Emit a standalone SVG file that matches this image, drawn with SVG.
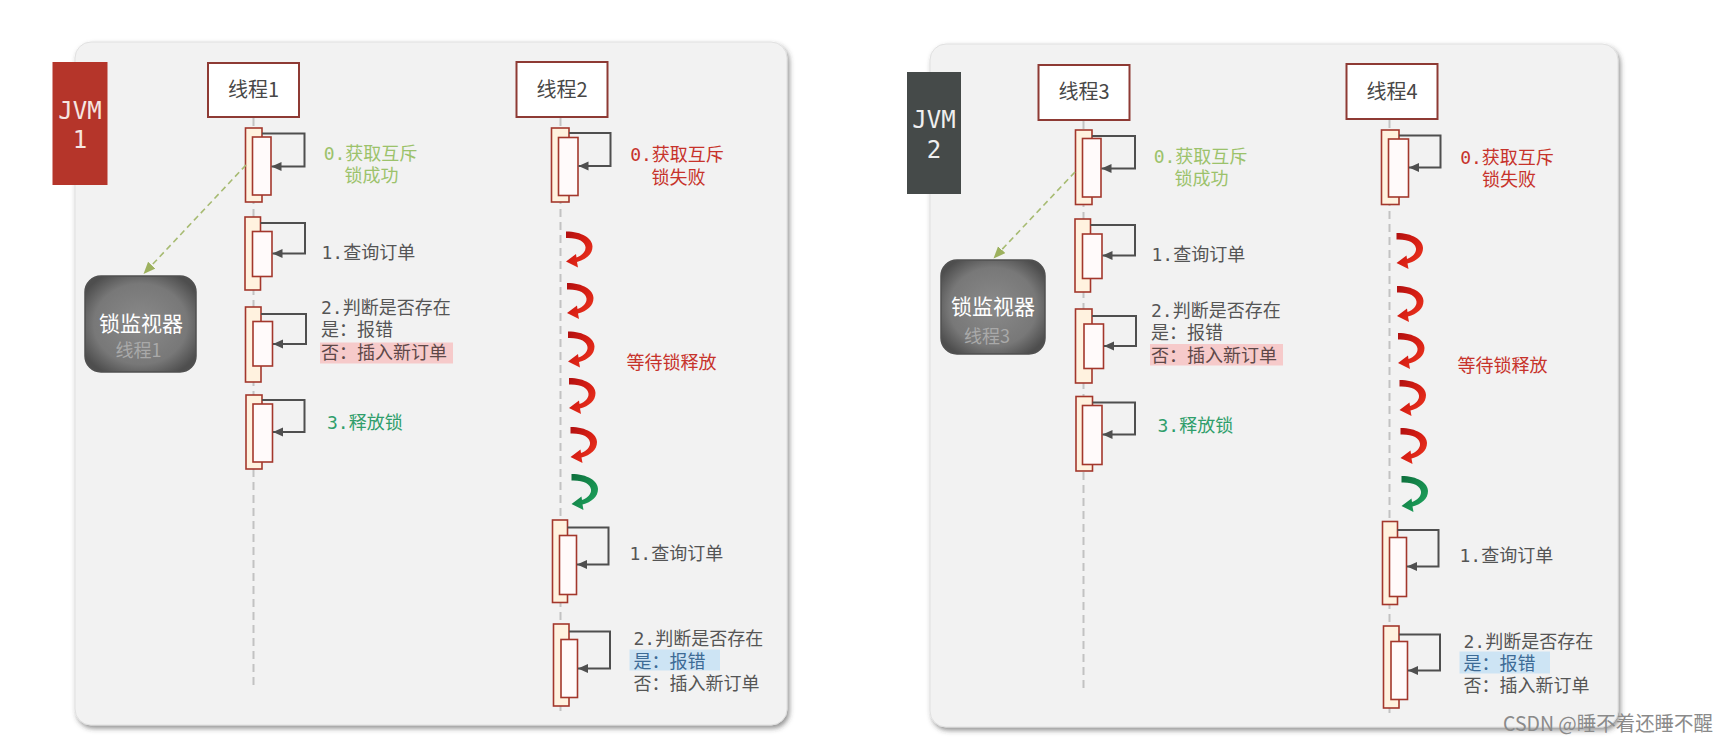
<svg xmlns="http://www.w3.org/2000/svg" width="1729" height="742" viewBox="0 0 1729 742">
<style>
.panel{fill:#f2f2f2;stroke:#e0e0e0;stroke-width:1}
.tbox{fill:#ffffff;stroke:#8e3a34;stroke-width:2}
.tn{font-family:"Noto Sans CJK SC","Noto Sans",sans-serif;font-size:20px;fill:#474747;text-anchor:middle}
.jvm{font-family:"DejaVu Sans Mono","Liberation Mono",monospace;font-size:24px;text-anchor:middle}
.life{stroke:#c2c2c2;stroke-width:2;stroke-dasharray:8 5;fill:none}
.aout{fill:#fff2df;stroke:#a3372c;stroke-width:1.6}
.ain{fill:#fffafa;stroke:#a3372c;stroke-width:1.6}
.self{fill:none;stroke:#4f4f4f;stroke-width:2;marker-end:url(#ah)}
.t{font-family:"DejaVu Sans Mono","Noto Sans CJK SC",monospace;font-size:18px}
.mid{text-anchor:middle}
.ok{fill:#9cc26b}
.bad{fill:#c7332b}
.gray{fill:#555555}
.rel{fill:#2f9e6b}
.blue{fill:#3d6b96}
.pinkt{fill:#5e4848}
.hlp{fill:#f6caca}
.hlb{fill:#cde4f4}
.mon{fill:url(#mg);stroke:#505050;stroke-width:1.5}
.mt{font-family:"Noto Sans CJK SC","Noto Sans",sans-serif;text-anchor:middle}
.dash{fill:none;stroke:#a7bb72;stroke-width:1.6;stroke-dasharray:6 4;marker-end:url(#dh)}
</style>
<defs>
<marker id="ah" markerUnits="userSpaceOnUse" markerWidth="12" markerHeight="10" refX="10" refY="4.5" orient="auto"><path d="M0,0 L10,4.5 L0,9 z" fill="#4f4f4f"/></marker>
<marker id="dh" markerUnits="userSpaceOnUse" markerWidth="14" markerHeight="12" refX="12" refY="5" orient="auto"><path d="M0,0 L12,5 L0,10 z" fill="#9db15e"/></marker>
<radialGradient id="mg" cx="50%" cy="50%" r="60%">
<stop offset="0" stop-color="#8a8a8a"/><stop offset="0.7" stop-color="#787878"/><stop offset="1" stop-color="#4e4e4e"/>
</radialGradient>
<linearGradient id="rg" x1="0" y1="0" x2="1" y2="1">
<stop offset="0" stop-color="#b01010"/><stop offset="0.5" stop-color="#d81f14"/><stop offset="1" stop-color="#ee3a22"/>
</linearGradient>
<linearGradient id="gg" x1="0" y1="0" x2="1" y2="1">
<stop offset="0" stop-color="#0d6e3c"/><stop offset="0.5" stop-color="#168c4e"/><stop offset="1" stop-color="#22a862"/>
</linearGradient>
<path id="curl" d="M0,0 C16,0 26.5,7 26.5,15 C26.5,23 20,28 11,30.5 L12,36 L0,30 L10,22.5 L10.5,26 C16,24 20,20 19.5,15.5 C19,10 12,6 0,6.5 Z"/>
<filter id="sh" x="-5%" y="-5%" width="110%" height="110%">
<feDropShadow dx="2" dy="3" stdDeviation="2.5" flood-color="#3a3a3a" flood-opacity="0.55"/>
</filter>
</defs>
<rect width="1729" height="742" fill="#ffffff"/>

<g id="panel-jvm1">
<rect class="panel" x="75" y="42" width="712" height="683" rx="16" filter="url(#sh)"/>
</g>
<g id="panel-jvm2">
<rect class="panel" x="930" y="44" width="688" height="683" rx="16" filter="url(#sh)"/>
</g>

<g id="jvm1">
<rect x="52.5" y="62" width="55" height="123" fill="#b5352a"/>
<text class="jvm" x="80" y="118.5" fill="#f6e6e1">JVM</text>
<text class="jvm" x="80" y="147.5" fill="#f6e6e1">1</text>
</g>
<g id="jvm2">
<rect x="907" y="72" width="54" height="122" fill="#454a49"/>
<text class="jvm" x="934" y="127.5" fill="#efefef">JVM</text>
<text class="jvm" x="934" y="157.5" fill="#efefef">2</text>
</g>

<g id="lifelines">
<line class="life" x1="253.5" y1="118" x2="253.5" y2="690"/>
<line class="life" x1="560.5" y1="118" x2="560.5" y2="712"/>
<line class="life" x1="1083.5" y1="121" x2="1083.5" y2="692"/>
<line class="life" x1="1389.5" y1="120" x2="1389.5" y2="713"/>
</g>

<g id="thread1">
<rect class="tbox" x="208" y="63" width="91" height="54"/>
<text class="tn" x="253.5" y="97">线程1</text>
</g>
<g id="thread2">
<rect class="tbox" x="516.5" y="62" width="91" height="55"/>
<text class="tn" x="562" y="97">线程2</text>
</g>
<g id="thread3">
<rect class="tbox" x="1038.5" y="65" width="91" height="55"/>
<text class="tn" x="1084" y="99">线程3</text>
</g>
<g id="thread4">
<rect class="tbox" x="1346.5" y="64" width="91" height="55"/>
<text class="tn" x="1392" y="99">线程4</text>
</g>

<g id="monitor1">
<rect class="mon" x="85" y="276" width="111" height="96" rx="16"/>
<text class="mt" x="141" y="330.5" font-size="21" fill="#ffffff">锁监视器</text>
<text class="mt" x="138.5" y="357" font-size="18" fill="#a9a9a9">线程1</text>
</g>
<g id="monitor2">
<rect class="mon" x="941" y="260" width="104" height="94" rx="16"/>
<text class="mt" x="993" y="314" font-size="21" fill="#ffffff">锁监视器</text>
<text class="mt" x="987" y="343" font-size="18" fill="#a9a9a9">线程3</text>
</g>

<!-- activation boxes -->
<g id="t1-act0"><rect class="aout" x="245.5" y="128" width="16.5" height="74"/><rect class="ain" x="252.5" y="137" width="18.5" height="58"/></g>
<g id="t1-act1"><rect class="aout" x="245" y="217" width="15.5" height="73"/><rect class="ain" x="252.5" y="231.5" width="19.5" height="45"/></g>
<g id="t1-act2"><rect class="aout" x="245.5" y="307" width="15.5" height="75"/><rect class="ain" x="253" y="321.5" width="19.5" height="44.5"/></g>
<g id="t1-act3"><rect class="aout" x="246" y="395" width="16" height="74"/><rect class="ain" x="253" y="404" width="19.5" height="58"/></g>

<g id="t2-act0"><rect class="aout" x="551.5" y="128" width="17.5" height="74"/><rect class="ain" x="558.5" y="137.5" width="19.5" height="58"/></g>
<g id="t2-act1"><rect class="aout" x="552.5" y="520" width="15" height="82.5"/><rect class="ain" x="559.5" y="535.5" width="17" height="59"/></g>
<g id="t2-act2"><rect class="aout" x="553.5" y="624" width="15.5" height="82"/><rect class="ain" x="561" y="639.5" width="16.5" height="58"/></g>

<g id="t3-act0"><rect class="aout" x="1075.5" y="130" width="16.5" height="74.5"/><rect class="ain" x="1082.5" y="138.5" width="18.5" height="58.5"/></g>
<g id="t3-act1"><rect class="aout" x="1075" y="219" width="15.5" height="73"/><rect class="ain" x="1082.5" y="234" width="19.5" height="44.5"/></g>
<g id="t3-act2"><rect class="aout" x="1075.5" y="309" width="16.5" height="74"/><rect class="ain" x="1084" y="324" width="19.5" height="44.5"/></g>
<g id="t3-act3"><rect class="aout" x="1076" y="396.5" width="16.5" height="74.5"/><rect class="ain" x="1082.5" y="405.5" width="19.5" height="59"/></g>

<g id="t4-act0"><rect class="aout" x="1381.5" y="130" width="17.5" height="74.5"/><rect class="ain" x="1388.5" y="139" width="20" height="58"/></g>
<g id="t4-act1"><rect class="aout" x="1382.5" y="521.5" width="15" height="83"/><rect class="ain" x="1389.5" y="537.5" width="17" height="59"/></g>
<g id="t4-act2"><rect class="aout" x="1383.5" y="626" width="15.5" height="82"/><rect class="ain" x="1391" y="641.5" width="16.5" height="58"/></g>

<g id="connectors">
<path class="self" d="M262,133.5 H304.5 V166.5 H271.5"/>
<path class="self" d="M260.5,223 H305 V253.5 H272.5"/>
<path class="self" d="M261,314 H306 V344 H273"/>
<path class="self" d="M262,400 H304.5 V432 H273"/>
<path class="self" d="M569,133 H610.5 V166 H578.5"/>
<path class="self" d="M567.5,527.5 H608.5 V564.5 H577"/>
<path class="self" d="M569,631.5 H610 V668.5 H578"/>
<path class="self" d="M1092,136 H1135 V168.5 H1101.5"/>
<path class="self" d="M1090.5,225 H1135 V255.5 H1102.5"/>
<path class="self" d="M1092,316 H1136 V346 H1104"/>
<path class="self" d="M1092.5,402.5 H1135 V434.5 H1102.5"/>
<path class="self" d="M1399,135.5 H1440.5 V167.5 H1409"/>
<path class="self" d="M1397.5,530 H1438.5 V566.5 H1407"/>
<path class="self" d="M1399,634.5 H1440 V670.5 H1408"/>
<path class="dash" d="M246,165 L143.5,274"/>
<path class="dash" d="M1075,172 L993.5,258.5"/>
</g>

<g id="waits">
<use href="#curl" x="566" y="231.5" fill="url(#rg)"/>
<use href="#curl" x="567" y="283" fill="url(#rg)"/>
<use href="#curl" x="568" y="331.5" fill="url(#rg)"/>
<use href="#curl" x="569" y="378" fill="url(#rg)"/>
<use href="#curl" x="570.5" y="427" fill="url(#rg)"/>
<use href="#curl" x="571.5" y="474" fill="url(#gg)"/>
<use href="#curl" x="1396.5" y="233" fill="url(#rg)"/>
<use href="#curl" x="1397" y="286" fill="url(#rg)"/>
<use href="#curl" x="1398" y="333" fill="url(#rg)"/>
<use href="#curl" x="1399.5" y="380" fill="url(#rg)"/>
<use href="#curl" x="1400.5" y="428" fill="url(#rg)"/>
<use href="#curl" x="1401.5" y="476" fill="url(#gg)"/>
</g>

<g id="labels-t1">
<text class="t ok mid" x="370.5" y="160">0.获取互斥</text>
<text class="t ok mid" x="371.5" y="182">锁成功</text>
<text class="t gray" x="321.5" y="258.5">1.查询订单</text>
<rect class="hlp" x="320" y="342.5" width="133" height="21"/>
<text class="t gray" x="321" y="314">2.判断是否存在</text>
<text class="t gray" x="321" y="336">是：报错</text>
<text class="t pinkt" x="321" y="359">否：插入新订单</text>
<text class="t rel" x="327" y="429">3.释放锁</text>
</g>
<g id="labels-t2">
<text class="t bad mid" x="677" y="161">0.获取互斥</text>
<text class="t bad mid" x="678.5" y="183.5">锁失败</text>
<text class="t bad" x="626.5" y="368.5">等待锁释放</text>
<text class="t gray" x="629.5" y="560">1.查询订单</text>
<rect class="hlb" x="629.5" y="649.5" width="90.5" height="21"/>
<text class="t gray" x="633.5" y="645">2.判断是否存在</text>
<text class="t blue" x="633.5" y="667.5">是：报错</text>
<text class="t gray" x="633.5" y="690">否：插入新订单</text>
</g>
<g id="labels-t3">
<text class="t ok mid" x="1200.5" y="163">0.获取互斥</text>
<text class="t ok mid" x="1201.5" y="185">锁成功</text>
<text class="t gray" x="1151.5" y="261">1.查询订单</text>
<rect class="hlp" x="1150" y="344" width="133" height="21.5"/>
<text class="t gray" x="1151" y="317">2.判断是否存在</text>
<text class="t gray" x="1151" y="339">是：报错</text>
<text class="t pinkt" x="1151" y="362">否：插入新订单</text>
<text class="t rel" x="1157.5" y="432">3.释放锁</text>
</g>
<g id="labels-t4">
<text class="t bad mid" x="1507" y="164">0.获取互斥</text>
<text class="t bad mid" x="1509" y="185.5">锁失败</text>
<text class="t bad" x="1457.5" y="371.5">等待锁释放</text>
<text class="t gray" x="1459.5" y="562">1.查询订单</text>
<rect class="hlb" x="1459.5" y="651.5" width="90.5" height="22"/>
<text class="t gray" x="1463.5" y="647.5">2.判断是否存在</text>
<text class="t blue" x="1463.5" y="670">是：报错</text>
<text class="t gray" x="1463.5" y="692">否：插入新订单</text>
</g>

<text x="1503" y="731" font-family="'Noto Sans CJK SC','Noto Sans',sans-serif" font-size="20" fill="#8a8a8a" textLength="210" lengthAdjust="spacingAndGlyphs">CSDN @睡不着还睡不醒</text>
</svg>
